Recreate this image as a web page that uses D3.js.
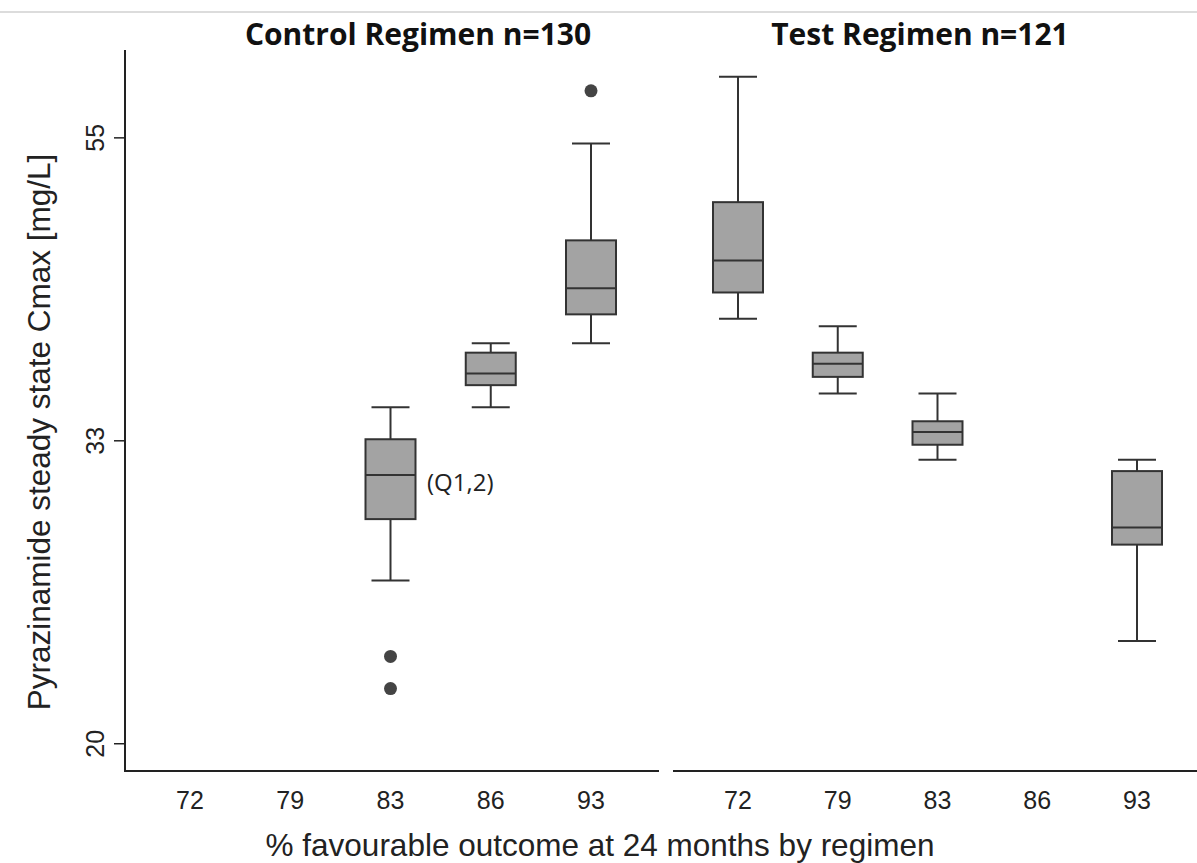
<!DOCTYPE html>
<html lang="en">
<head>
<meta charset="UTF-8">
<script src="https://d3js.org/d3.v7.min.js"></script>
<style>
  body { margin: 0; background: #fff; }
  .title { font-family: "Open Sans", "Noto Sans", sans-serif; font-weight: 700; font-size: 30px; fill: #111; }
  .tick-lbl { font-family: "Liberation Sans", Arial, sans-serif; font-size: 25px; fill: #222; }
  .axis-title { font-family: "Liberation Sans", Arial, sans-serif; font-size: 31.5px; fill: #222; }
  .note { font-family: "Open Sans", "Noto Sans", sans-serif; font-size: 24px; fill: #222; }
</style>
</head>
<body>
<svg id="chart" width="1197" height="863"></svg>
<script>
// outcome categories (% favourable at 24 months)
const categories = ["72", "79", "83", "86", "93"];
const panels = ["Control Regimen n=130", "Test Regimen n=121"];

// boxes: [panel, category, lowWhisker, q1, median, q3, highWhisker]
const boxes = [
  [0, "83", 26.3, 29.1, 31.3, 33.2, 35.0],
  [0, "86", 35.0, 36.3, 37.0, 38.3, 38.9],
  [0, "93", 38.9, 40.8, 42.6, 46.1, 54.1],
  [1, "72", 40.5, 42.3, 44.6, 49.1, 60.4],
  [1, "79", 35.8, 36.8, 37.6, 38.3, 40.0],
  [1, "83", 32.1, 32.9, 33.6, 34.2, 35.8],
  [1, "93", 23.8, 27.9, 28.7, 31.5, 32.1]
];
// outliers: [panel, category, value]
const outliers = [
  [0, "93", 59.0],
  [0, "83", 23.2],
  [0, "83", 22.0]
];
// y ticks sit at e^3, e^3.5, e^4 and are labelled rounded
const yTickVals = [Math.exp(3), Math.exp(3.5), Math.exp(4)];
const yTickLabels = ["20", "33", "55"];

const svg = d3.select("#chart");

// thin grey rule at top
svg.append("line").attr("x1", 0).attr("x2", 1197).attr("y1", 12).attr("y2", 12)
   .attr("stroke", "#dcdcdc").attr("stroke-width", 2);

const y = d3.scaleLog().domain([Math.exp(2.955), Math.exp(4.145)]).range([771, 50]);
const xs = [
  d3.scalePoint().domain(categories).range([190, 591]),
  d3.scalePoint().domain(categories).range([738, 1137])
];

// y axis
svg.append("line").attr("x1", 125).attr("x2", 125).attr("y1", 50).attr("y2", 772)
   .attr("stroke", "#222").attr("stroke-width", 2);
yTickVals.forEach((v, i) => {
  svg.append("line").attr("x1", 114).attr("x2", 125).attr("y1", y(v)).attr("y2", y(v))
     .attr("stroke", "#222").attr("stroke-width", 1.5);
  svg.append("text").attr("class", "tick-lbl")
     .attr("transform", `translate(104,${y(v)}) rotate(-90)`)
     .attr("text-anchor", "middle").text(yTickLabels[i]);
});

// x axis (broken between panels)
svg.append("line").attr("x1", 124).attr("x2", 659).attr("y1", 771).attr("y2", 771)
   .attr("stroke", "#222").attr("stroke-width", 2);
svg.append("line").attr("x1", 673).attr("x2", 1197).attr("y1", 771).attr("y2", 771)
   .attr("stroke", "#222").attr("stroke-width", 2);
xs.forEach(x => {
  categories.forEach(c => {
    svg.append("text").attr("class", "tick-lbl").attr("x", x(c)).attr("y", 809)
       .attr("text-anchor", "middle").text(c);
  });
});

// panel titles
svg.append("text").attr("class", "title").attr("x", 418).attr("y", 45)
   .attr("text-anchor", "middle").text(panels[0]);
svg.append("text").attr("class", "title").attr("x", 920).attr("y", 45)
   .attr("text-anchor", "middle").text(panels[1]);

// axis titles
svg.append("text").attr("class", "axis-title")
   .attr("transform", "translate(50,432) rotate(-90)")
   .attr("text-anchor", "middle").text("Pyrazinamide steady state Cmax [mg/L]");
svg.append("text").attr("class", "axis-title").attr("x", 600).attr("y", 856)
   .attr("text-anchor", "middle").text("% favourable outcome at 24 months by regimen");

// boxes
const boxW = 50, capW = 38;
const g = svg.append("g");
boxes.forEach(b => {
  const cx = xs[b[0]](b[1]);
  const [lo, q1, med, q3, hi] = b.slice(2);
  g.append("line").attr("x1", cx).attr("x2", cx).attr("y1", y(hi)).attr("y2", y(q3))
   .attr("stroke", "#333").attr("stroke-width", 2);
  g.append("line").attr("x1", cx).attr("x2", cx).attr("y1", y(q1)).attr("y2", y(lo))
   .attr("stroke", "#333").attr("stroke-width", 2);
  g.append("line").attr("x1", cx - capW / 2).attr("x2", cx + capW / 2).attr("y1", y(hi)).attr("y2", y(hi))
   .attr("stroke", "#333").attr("stroke-width", 2);
  g.append("line").attr("x1", cx - capW / 2).attr("x2", cx + capW / 2).attr("y1", y(lo)).attr("y2", y(lo))
   .attr("stroke", "#333").attr("stroke-width", 2);
  g.append("rect").attr("x", cx - boxW / 2).attr("width", boxW)
   .attr("y", y(q3)).attr("height", y(q1) - y(q3))
   .attr("fill", "#a3a3a3").attr("stroke", "#333").attr("stroke-width", 2);
  g.append("line").attr("x1", cx - boxW / 2).attr("x2", cx + boxW / 2).attr("y1", y(med)).attr("y2", y(med))
   .attr("stroke", "#333").attr("stroke-width", 2);
});

outliers.forEach(o => {
  g.append("circle").attr("cx", xs[o[0]](o[1])).attr("cy", y(o[2])).attr("r", 6.5)
   .attr("fill", "#444");
});

// annotation
svg.append("text").attr("class", "note").attr("x", 427).attr("y", y(31.3) + 16).text("(Q1,2)");
</script>
</body>
</html>
